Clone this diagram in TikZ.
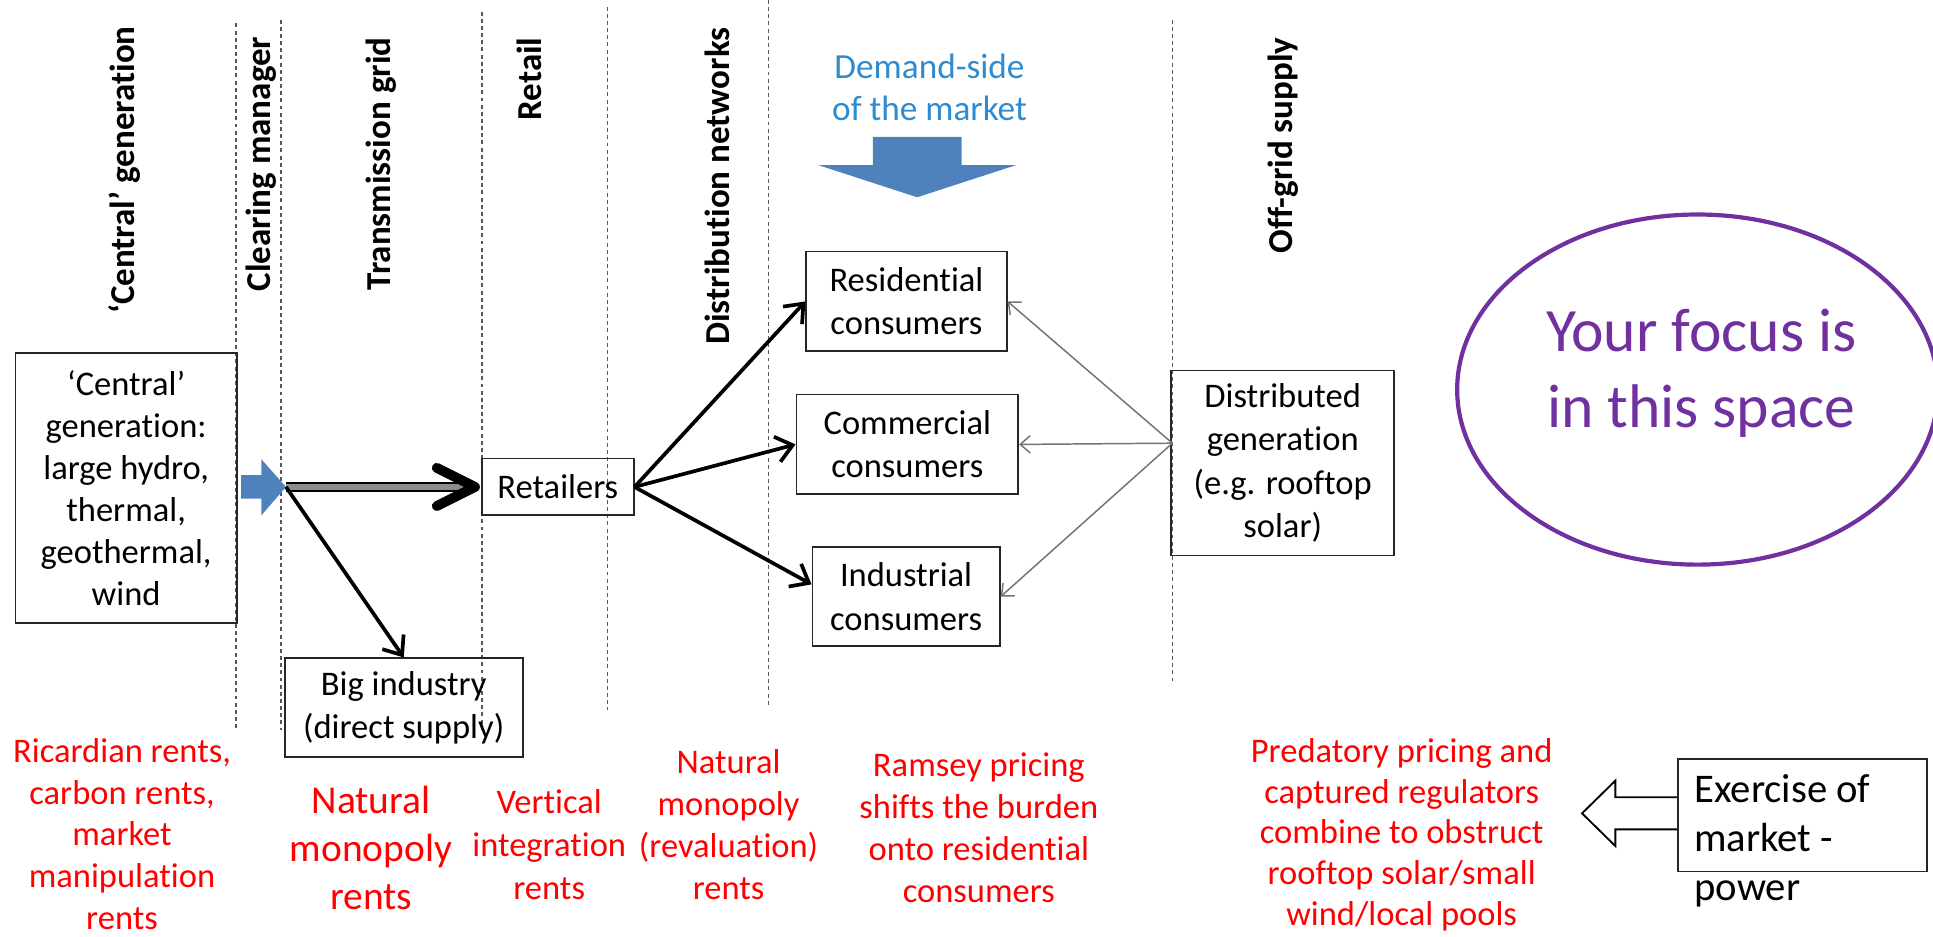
\documentclass[tikz,border=0pt]{standalone}
\usepackage{fontspec}
\setmainfont{Carlito}[Ligatures=NoCommon]
\usetikzlibrary{arrows.meta,calc}
\definecolor{bluearr}{RGB}{79,129,189}
\definecolor{demblue}{RGB}{46,139,208}
\definecolor{focuspurple}{RGB}{112,48,160}
\definecolor{rentred}{RGB}{255,0,0}
\begin{document}
\begin{tikzpicture}[x=0.5pt,y=-0.5pt,
  nodebox/.style={draw=black!85, line width=0.7pt, align=center, inner sep=0pt,
    font=\fontsize{14}{17.5}\selectfont},
  hdr/.style={rotate=90, inner sep=0pt, font=\bfseries\fontsize{14.2}{17}\selectfont},
  rent/.style={text=rentred, align=center, inner sep=0pt, font=\fontsize{14}{17}\selectfont},
  divider/.style={draw=black!65, line width=0.5pt, dash pattern=on 1.6pt off 1.3pt},
  supplyarrow/.style={line width=1.5pt, -{Straight Barb[length=6.5pt,width=10.5pt]}},
  feedarrow/.style={draw=black!55, line width=0.6pt, -{Straight Barb[length=4pt,width=7pt]}},
]
\useasboundingbox (0,0) rectangle (1568,760);

% vertical dividers
\draw[divider] (191.5,19) -- (191.5,592);
\draw[divider] (228,16) -- (228,592);
\draw[divider] (391,9.5) -- (391,592);
\draw[divider] (493,5.4) -- (493,576);
\draw[divider] (623.5,0) -- (623.5,573);
\draw[divider] (951,16) -- (951,555);

% column headers
\node[hdr] (hgen) at (101,138) {‘Central’ generation};
\node[hdr] (hclear) at (212,133) {Clearing manager};
\node[hdr] (htrans) at (309.6,133) {Transmission grid};
\node[hdr] (hretail) at (429,64) {Retail};
\node[hdr] (hdistr) at (581.5,151) {Distribution networks};
\node[hdr] (hoff) at (1040.5,118) {Off-grid supply};

% boxes
\node[nodebox, minimum width=89.7pt, minimum height=109.5pt, font=\fontsize{14}{17}\selectfont] (gen) at (102.3,396)
  {‘Central’\\generation:\\large hydro,\\thermal,\\geothermal,\\wind};
\node[nodebox, minimum width=96.5pt, minimum height=40pt] (big) at (327.5,574) {Big industry\\(direct supply)};
\node[nodebox, minimum width=61.5pt, minimum height=23pt] (ret) at (452.5,395) {Retailers};
\node[nodebox, minimum width=81.3pt, minimum height=40.5pt] (res) at (735.3,244.5) {Residential\\consumers};
\node[nodebox, minimum width=90pt, minimum height=40.5pt] (com) at (736,360.5) {Commercial\\consumers};
\node[nodebox, minimum width=76pt, minimum height=40pt] (ind) at (735,484) {Industrial\\consumers};
\node[nodebox, minimum width=90.5pt, minimum height=75pt] (dist) at (1040.5,375.5)
  {Distributed\\generation\\(e.g. rooftop\\solar)};
\node[nodebox, minimum width=101pt, minimum height=45.75pt] (exbox) at (1462,661.25) {};
\node[anchor=west, align=left, inner sep=0pt, font=\fontsize{16.5}{20}\selectfont] (extxt) at (1374,682)
  {Exercise of\\market -\\power};

\coordinate (hub) at (232,395);
\coordinate (dsrc) at (951,359.5);

% blue block arrow from central generation
\fill[bluearr] ($(hub)+(-36.5,-9.5)$) -- ($(hub)+(-20,-9.5)$) -- ($(hub)+(-20,-22.5)$) -- (hub)
  -- ($(hub)+(-20,23)$) -- ($(hub)+(-20,9.5)$) -- ($(hub)+(-36.5,9.5)$) -- cycle;

% transmission to retailers (multi-line arrow)
\draw[line width=0.8pt, double=black!45, double distance=2.2pt] (hub) -- ($(ret.west)+(-8,0)$);
\draw[line width=4pt, line cap=round, line join=round]
  ($(ret.west)+(-36,-15.5)$) -- ($(ret.west)+(-5,0)$) -- ($(ret.west)+(-36,15.5)$);

% direct supply
\draw[supplyarrow] (hub) -- (big.north);

% retail to consumers
\draw[supplyarrow] (ret.east) -- (res.west);
\draw[supplyarrow] (ret.east) -- (com.west);
\draw[supplyarrow] (ret.east) -- ([yshift=5pt]ind.west);

% distributed generation to consumers
\draw[feedarrow] (dsrc) -- (res.east);
\draw[feedarrow] (dsrc) -- (com.east);
\draw[feedarrow] (dsrc) -- (ind.east);

% demand side
\node[text=demblue, align=center, inner sep=0pt, font=\fontsize{14.3}{17}\selectfont] (dem) at (754,71)
  {Demand-side\\of the market};
\fill[bluearr] (708,111) -- (780,111) -- (780,134) -- (824,134) -- (744,160) -- (664,134) -- (708,134) -- cycle;

% focus ellipse
\draw[focuspurple, line width=1.7pt] (1377,316) ellipse [x radius=97.5pt, y radius=71pt];
\node[text=focuspurple, align=center, inner sep=0pt, font=\fontsize{25}{31}\selectfont] (focus) at (1380,303)
  {Your focus is\\in this space};

% rents
\node[rent] (ricardo) at (99,676.6) {Ricardian rents,\\carbon rents,\\market\\manipulation\\rents};
\node[rent, font=\fontsize{16}{19.5}\selectfont] (natmono) at (301,688) {Natural\\monopoly\\rents};
\node[rent, font=\fontsize{14}{17.5}\selectfont] (vert) at (445.5,685) {Vertical\\integration\\rents};
\node[rent] (reval) at (591,669) {Natural\\monopoly\\(revaluation)\\rents};
\node[rent] (ramsey) at (794,671.5) {Ramsey pricing\\shifts the burden\\onto residential\\consumers};
\node[rent, font=\fontsize{14}{16.5}\selectfont] (pred) at (1137,677)
  {Predatory pricing and\\captured regulators\\combine to obstruct\\rooftop solar/small\\wind/local pools};

% hollow arrow from market power box
\draw[line width=0.75pt, fill=white]
  ($(exbox.west)+(0,-14.5)$) -- ($(exbox.west)+(-50,-14.5)$) -- ($(exbox.west)+(-50,-28)$)
  -- ($(exbox.west)+(-77,-1.5)$) -- ($(exbox.west)+(-50,25)$) -- ($(exbox.west)+(-50,11.5)$)
  -- ($(exbox.west)+(0,11.5)$);
\end{tikzpicture}
\end{document}
